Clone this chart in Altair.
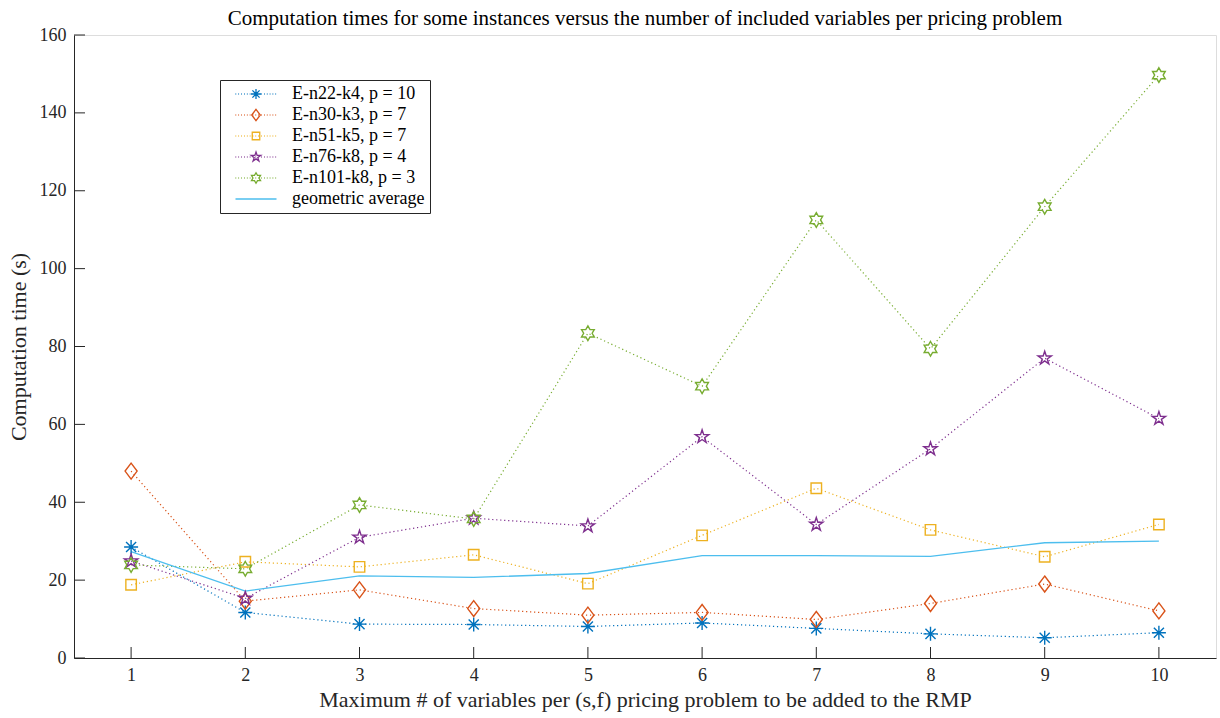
import altair as alt
import pandas as pd

# x: maximum number of variables per (s,f) pricing problem added to the RMP
steps = [1, 2, 3, 4, 5, 6, 7, 8, 9, 10]

series_names = [
    "E-n22-k4, p = 10",
    "E-n30-k3, p = 7",
    "E-n51-k5, p = 7",
    "E-n76-k8, p = 4",
    "E-n101-k8, p = 3",
    "geometric average",
]

# computation times in seconds
t_n22 = [28.5, 11.7, 8.7, 8.6, 8.1, 9.0, 7.6, 6.2, 5.2, 6.5]
t_n30 = [48.0, 14.6, 17.5, 12.7, 11.0, 11.7, 9.9, 14.0, 19.0, 12.1]
t_n51 = [18.8, 24.7, 23.4, 26.5, 19.1, 31.5, 43.6, 32.9, 26.0, 34.3]
t_n76 = [24.9, 15.3, 31.0, 35.9, 33.9, 56.8, 34.3, 53.7, 77.0, 61.5]
t_n101 = [23.9, 22.9, 39.3, 35.7, 83.4, 69.8, 112.5, 79.4, 115.9, 149.7]
t_geo = [27.3, 17.2, 21.1, 20.7, 21.7, 26.3, 26.3, 26.1, 29.6, 30.0]

series_colors = ["#0072BD", "#D95319", "#EDB120", "#7E2F8E", "#77AC30", "#4DBEEE"]

x_tick_values = steps
y_tick_values = [0, 20, 40, 60, 80, 100, 120, 140, 160]

FONT = "Liberation Serif"
TEXT = "#262626"

rows = []
for name, vals in zip(series_names, [t_n22, t_n30, t_n51, t_n76, t_n101, t_geo]):
    for s, v in zip(steps, vals):
        rows.append({"step": s, "time": v, "series": name})
df = pd.DataFrame(rows)


# ---- marker glyphs as SVG paths (unit = 7 px at size 196) ----
def poly(pts):
    return "M" + "L".join(f"{x:.3f},{y:.3f}" for x, y in pts) + "Z"


def star(n, r_out, r_in):
    import math
    pts = []
    for k in range(2 * n):
        r = r_out if k % 2 == 0 else r_in
        a = -math.pi / 2 + k * math.pi / n
        pts.append((r * math.cos(a), r * math.sin(a)))
    return poly(pts)


asterisk = "M-1,0L1,0M0,-1L0,1M-0.72,-0.72L0.72,0.72M-0.72,0.72L0.72,-0.72"
diamond = poly([(0, -1.14), (0.86, 0), (0, 1.14), (-0.86, 0)])
square = poly([(-0.75, -0.75), (0.75, -0.75), (0.75, 0.75), (-0.75, 0.75)])
pentagram = star(5, 1.0, 0.382)
hexagram = star(6, 1.05, 1.05 / 3 ** 0.5)
marker_paths = [asterisk, diamond, square, pentagram, hexagram]


def dotted(half=4.1, step=0.57, seg=0.14):
    out, x = [], -half
    while x < half:
        out.append(f"M{x:.3f},0L{x + seg:.3f},0")
        x += step
    return "".join(out)


legend_paths = [dotted() + p for p in marker_paths] + ["M-4.1,0L4.1,0"]

x_scale = alt.Scale(domain=[0.5, 10.5], nice=False, zero=False)
y_scale = alt.Scale(domain=[0, 160], nice=False)
color_scale = alt.Scale(domain=series_names, range=series_colors)

x_enc = alt.X(
    "step:Q",
    scale=x_scale,
    axis=alt.Axis(
        values=x_tick_values,
        format="d",
        title="Maximum # of variables per (s,f) pricing problem to be added to the RMP",
        grid=False,
        tickSize=0,
        labelPadding=8,
        titlePadding=5,
        labelFont=FONT,
        labelFontSize=18,
        labelColor=TEXT,
        titleFont=FONT,
        titleFontSize=22,
        titleFontWeight="normal",
        titleColor=TEXT,
        domainColor=TEXT,
        domainWidth=1,
    ),
)
y_enc = alt.Y(
    "time:Q",
    scale=y_scale,
    axis=alt.Axis(
        values=y_tick_values,
        title="Computation time (s)",
        grid=False,
        tickSize=0,
        labelPadding=8,
        titlePadding=9,
        labelFont=FONT,
        labelFontSize=18,
        labelColor=TEXT,
        titleFont=FONT,
        titleFontSize=22,
        titleFontWeight="normal",
        titleColor=TEXT,
        domainColor=TEXT,
        domainWidth=1,
    ),
)

base = alt.Chart(df)
instances = alt.FieldOneOfPredicate(field="series", oneOf=series_names[:5])

dotted_lines = base.mark_line(strokeDash=[1.2, 2.8], strokeWidth=1.2).encode(
    x=x_enc,
    y=y_enc,
    color=alt.Color("series:N", scale=color_scale, legend=None),
).transform_filter(instances)

avg_line = base.mark_line(strokeWidth=1.3).encode(
    x=x_enc,
    y=y_enc,
    color=alt.Color("series:N", scale=color_scale, legend=None),
).transform_filter(alt.datum.series == "geometric average")

markers = base.mark_point(filled=False, size=196, strokeWidth=1.4, opacity=1).encode(
    x=x_enc,
    y=y_enc,
    color=alt.Color("series:N", scale=color_scale, legend=None),
    shape=alt.Shape(
        "series:N",
        scale=alt.Scale(domain=series_names[:5], range=marker_paths),
        legend=None,
    ),
).transform_filter(instances)

legend_box = alt.Legend(
    title=None,
    orient="none",
    legendX=146,
    legendY=45,
    padding=5,
    strokeColor=TEXT,
    fillColor="white",
    labelFont=FONT,
    labelFontSize=18,
    labelColor="black",
    labelOffset=27,
    symbolOffset=22,
    rowPadding=3,
    symbolStrokeWidth=1.3,
    labelLimit=300,
)

legend_layer = base.mark_point(filled=False, size=196, strokeWidth=1.3, opacity=1).encode(
    x=x_enc,
    y=y_enc,
    color=alt.Color("series:N", scale=color_scale, legend=legend_box),
    shape=alt.Shape(
        "series:N",
        scale=alt.Scale(domain=series_names, range=legend_paths),
        legend=legend_box,
    ),
).transform_filter("false")

# inward tick marks
y_ticks = alt.Chart(pd.DataFrame({"v": y_tick_values})).mark_rule(
    color=TEXT, strokeWidth=1
).encode(y=alt.Y("v:Q", scale=y_scale), x=alt.value(0), x2=alt.value(11))

x_ticks = alt.Chart(pd.DataFrame({"v": x_tick_values})).mark_rule(
    color=TEXT, strokeWidth=1
).encode(x=alt.X("v:Q", scale=x_scale), y=alt.value(612), y2=alt.value(623))

chart = (
    alt.layer(y_ticks, x_ticks, dotted_lines, avg_line, markers, legend_layer)
    .resolve_scale(color="independent", shape="independent")
    .properties(
        width=1142,
        height=623,
        autosize=alt.AutoSizeParams(type="none"),
        padding={"left": 74, "top": 35, "right": 4, "bottom": 60},
        title=alt.TitleParams(
            "Computation times for some instances versus the number of included variables per pricing problem",
            font=FONT,
            fontSize=21,
            fontWeight="normal",
            color="black",
            anchor="middle",
            offset=-3,
        ),
    )
    .configure_view(stroke=None)
    .configure(background="white")
)

chart.save("out.html", embed_options={"renderer": "svg", "actions": False})
